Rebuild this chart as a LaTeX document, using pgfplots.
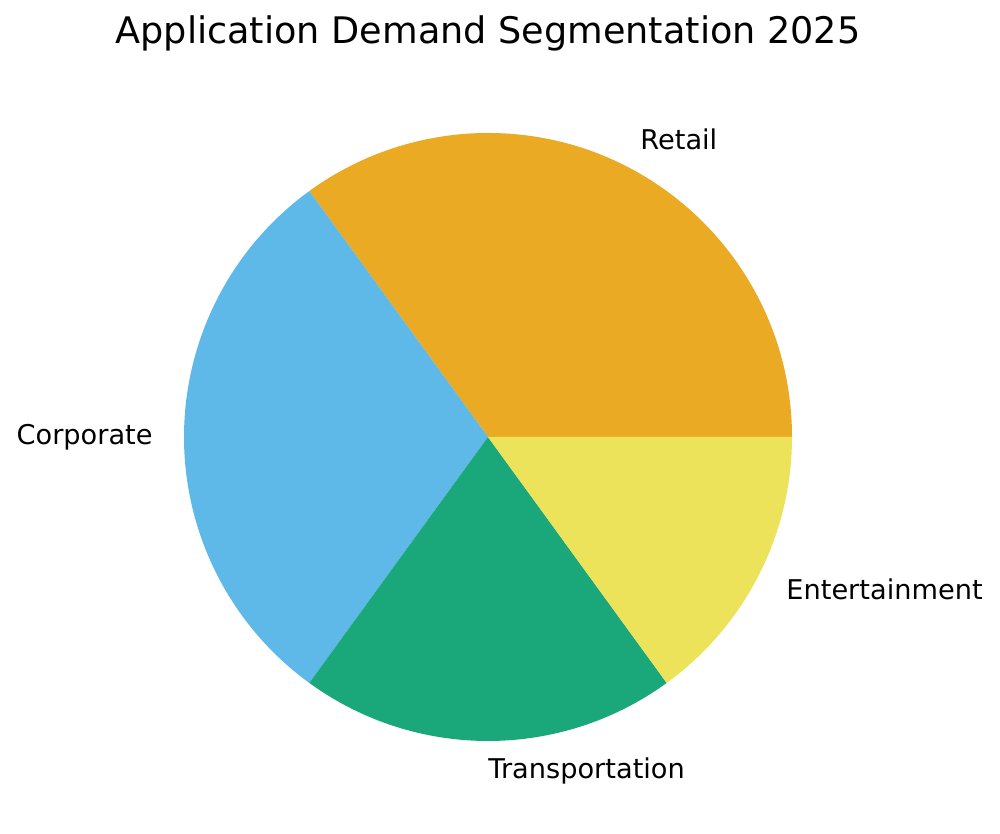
\documentclass[border=0pt]{standalone}
\usepackage{pgfplots}
\pgfplotsset{compat=1.18}
\usepackage{fontspec}
\setmainfont{DejaVu Sans}

% Okabe-Ito colours, slightly washed out
\definecolor{cRetail}{HTML}{EAAA24}
\definecolor{cCorp}{HTML}{5EB8E8}
\definecolor{cTrans}{HTML}{1AA779}
\definecolor{cEnt}{HTML}{ECE35A}

\tikzset{lbl/.style={inner sep=0pt, font=\fontsize{13.6}{16}\selectfont}}

% pixel grid of the reference: 1 px = 0.5pt, y counted upward
\def\cx{488}\def\cy{397}\def\R{152pt}
% #1 start share, #2 end share (percent), #3 colour
\newcommand\slice[3]{%
  \fill[#3] (axis cs:\cx,\cy) -- ++({3.6*#1}:\R)
    arc[start angle={3.6*#1}, end angle={3.6*#2}, radius=\R] -- cycle;}

\begin{document}
\begin{tikzpicture}
\begin{axis}[
  width=500pt, height=417pt, scale only axis,
  xmin=0, xmax=1000, ymin=0, ymax=834,
  axis lines=none, clip=false,
  ]
  % full canvas, so the page keeps the reference size
  \path (axis cs:0,0) rectangle (axis cs:1000,834);

  % shares: Retail 35, Corporate 30, Transportation 20, Entertainment 15
  \slice{0}{35}{cRetail}
  \slice{35}{65}{cCorp}
  \slice{65}{85}{cTrans}
  \slice{85}{100}{cEnt}

  \node[inner sep=0pt, font=\fontsize{18.3}{22}\selectfont] at (axis cs:488,801) {Application Demand Segmentation 2025};
  \node[lbl, anchor=west] at (axis cs:640,695) {Retail};
  \node[lbl, anchor=east] at (axis cs:153,397) {Corporate};
  \node[lbl, anchor=west] at (axis cs:488,63) {Transportation};
  \node[lbl, anchor=west] at (axis cs:786,245) {Entertainment};
\end{axis}
\end{tikzpicture}
\end{document}
